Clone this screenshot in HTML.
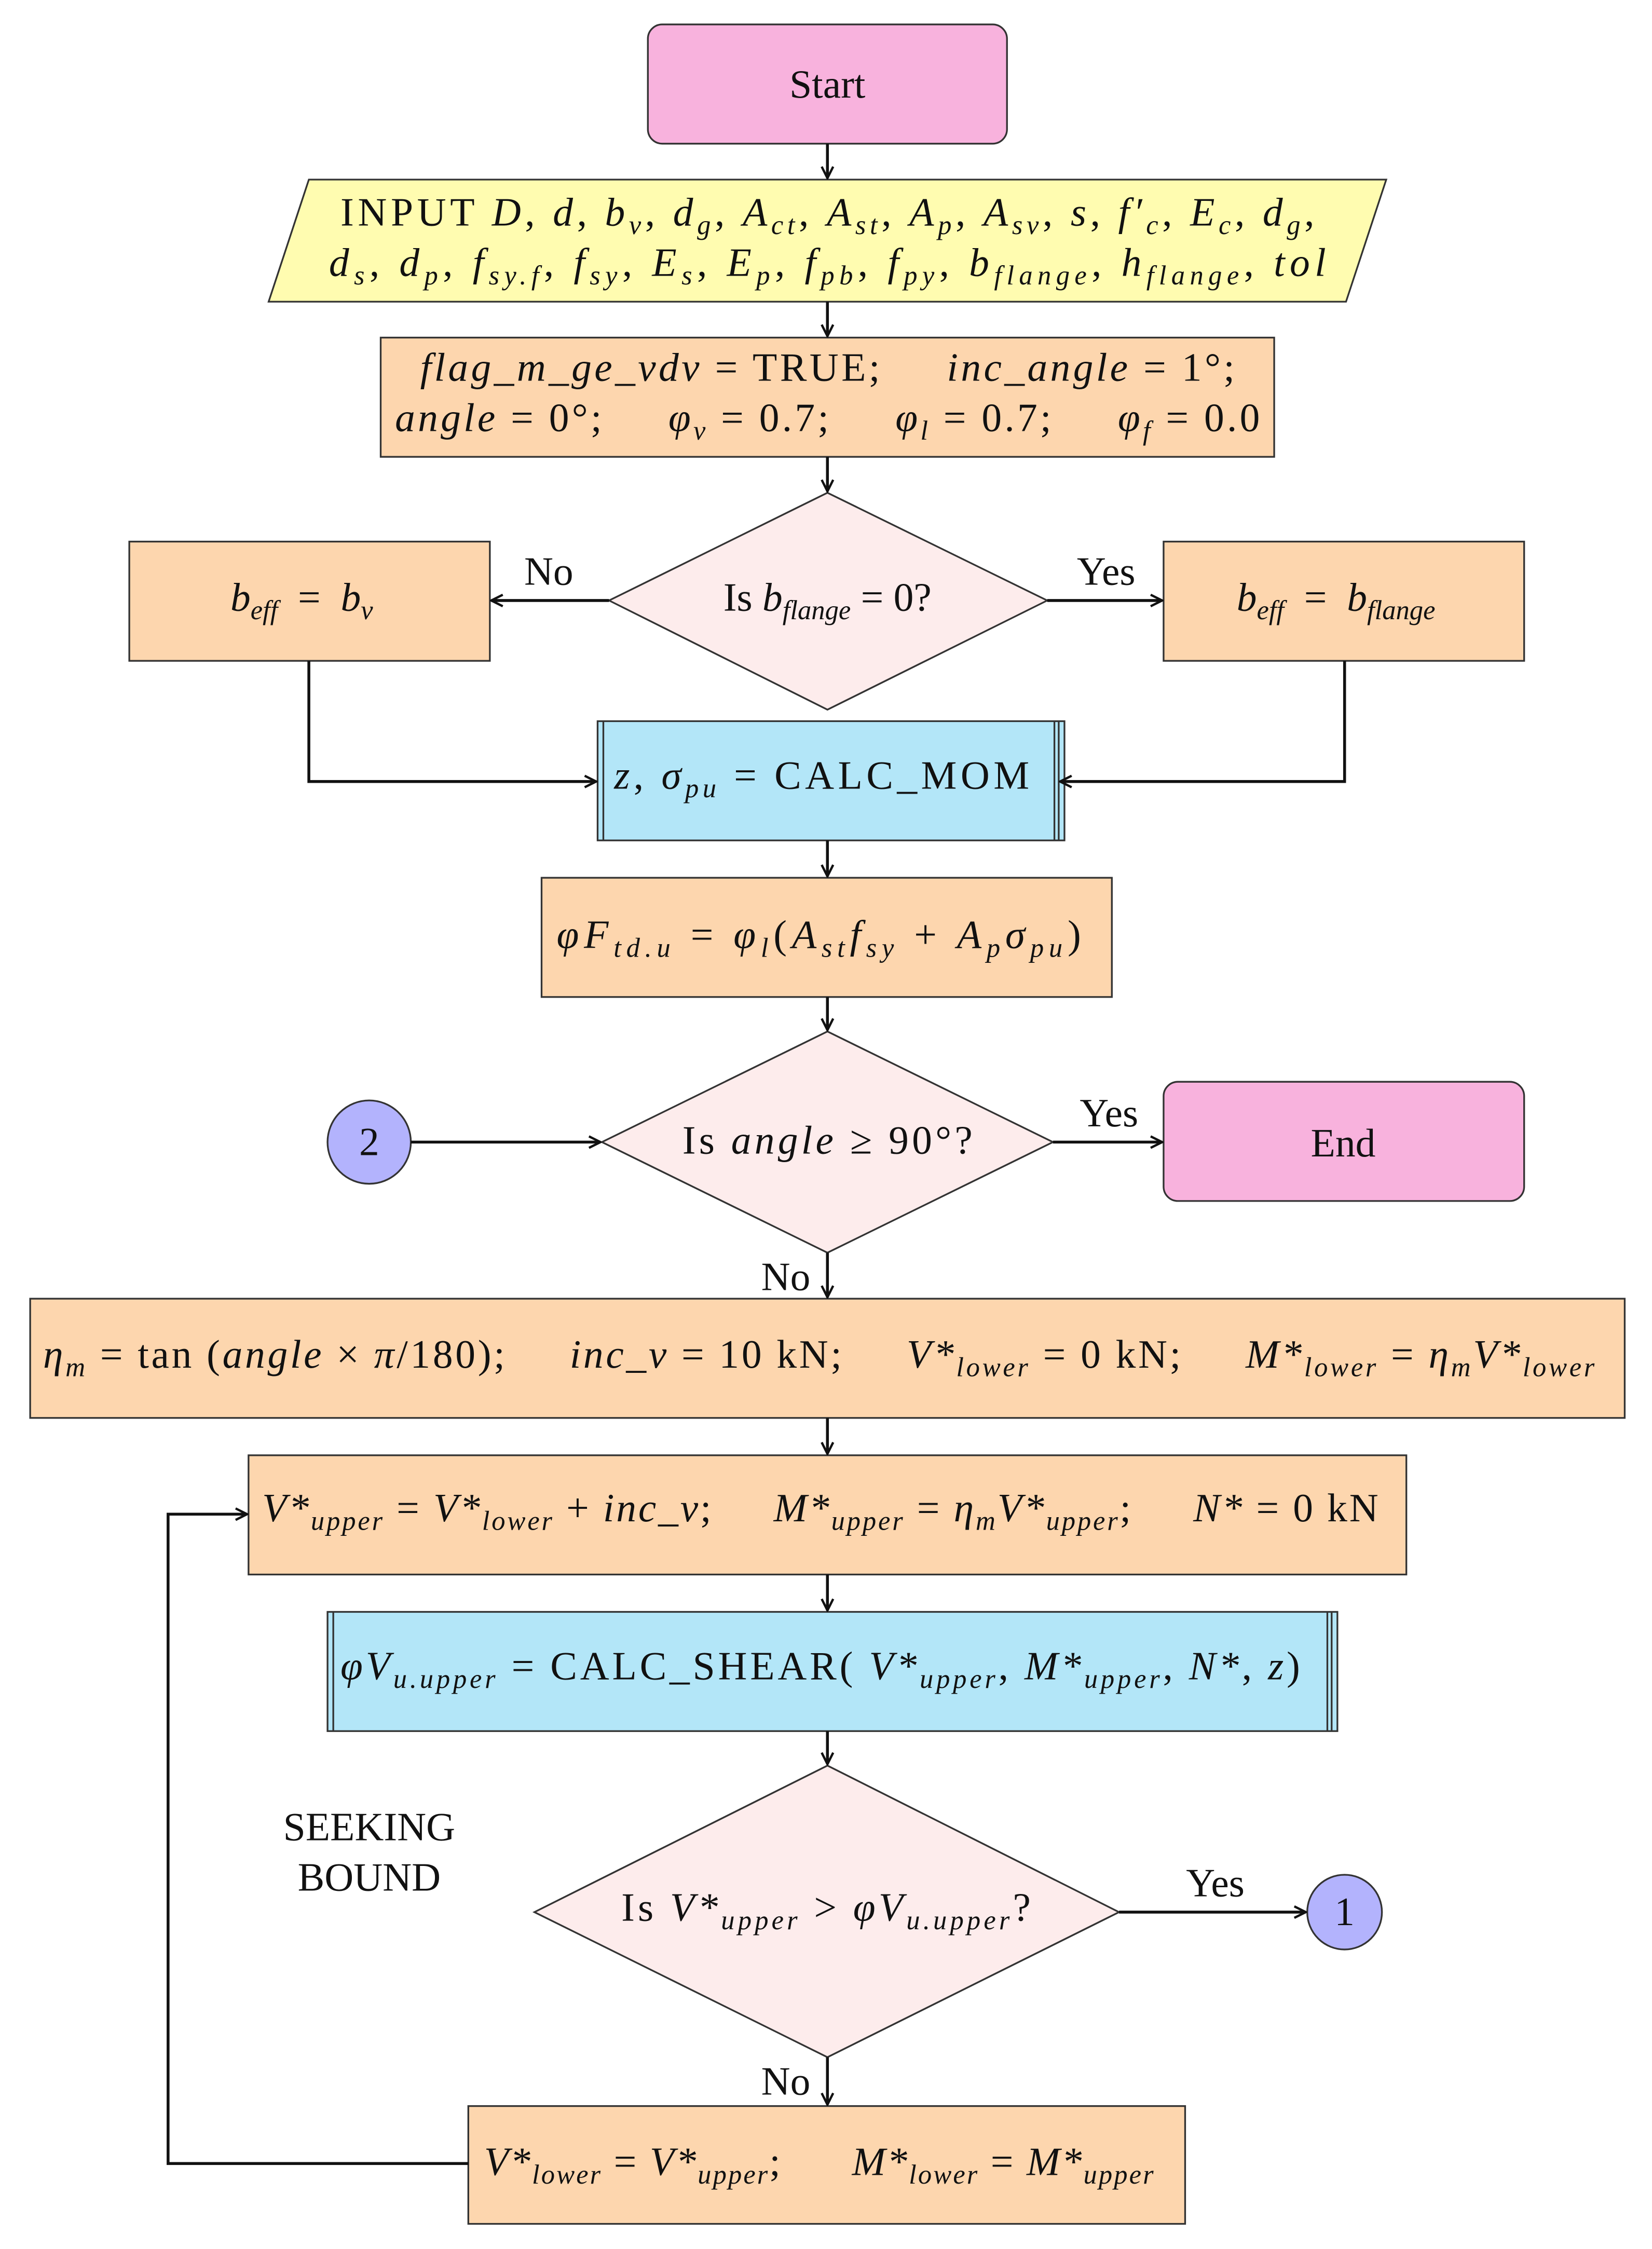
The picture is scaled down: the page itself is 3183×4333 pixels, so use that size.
<!DOCTYPE html>
<html><head><meta charset="utf-8"><style>
html,body{margin:0;padding:0;background:#fff;}
svg{display:block;}
text{font-family:"Liberation Serif",serif;font-size:28px;fill:#111;white-space:pre;}
.i{font-style:italic;}
.s{font-size:19px;font-style:italic;}
</style></head><body>
<svg width="3183" height="4333" viewBox="0 0 1150 1565.5" xmlns="http://www.w3.org/2000/svg">
<defs><marker id="a" markerWidth="10" markerHeight="10" refX="9" refY="5" orient="auto" markerUnits="userSpaceOnUse"><path d="M1,1 L9,5 L1,9" fill="none" stroke="#111" stroke-width="1.6"/></marker></defs>
<g stroke="#333" stroke-width="1.2">
<rect x="451" y="17" width="250" height="83" rx="10" fill="#f8b2dd"/>
<polygon points="215,125 965,125 937,210 187,210" fill="#fffcb0"/>
<rect x="265" y="235" width="622" height="83" fill="#fdd6ae"/>
<polygon points="576,343 729,418 576,494 424,418" fill="#fdecec"/>
<rect x="90" y="377" width="251" height="83" fill="#fdd6ae"/>
<rect x="810" y="377" width="251" height="83" fill="#fdd6ae"/>
<rect x="416" y="502" width="325" height="83" fill="#b3e6f8"/>
<rect x="377" y="611" width="397" height="83" fill="#fdd6ae"/>
<polygon points="576,718 733,795 576,872 419,795" fill="#fdecec"/>
<circle cx="257" cy="795" r="29" fill="#b3b3fd"/>
<rect x="810" y="753" width="251" height="83" rx="10" fill="#f8b2dd"/>
<rect x="21" y="904" width="1110" height="83" fill="#fdd6ae"/>
<rect x="173" y="1013" width="806" height="83" fill="#fdd6ae"/>
<rect x="228" y="1122" width="703" height="83" fill="#b3e6f8"/>
<polygon points="576,1229 779,1331 576,1432 372,1331" fill="#fdecec"/>
<circle cx="936" cy="1331" r="26" fill="#b3b3fd"/>
<rect x="326" y="1466" width="499" height="82" fill="#fdd6ae"/>
<path d="M420,502V585M737,502V585M734,502V585M232,1122V1205M927,1122V1205M924,1122V1205" fill="none"/>
</g>
<g stroke="#111" stroke-width="2" fill="none" marker-end="url(#a)">
<path d="M576,100V124"/><path d="M576,210V234"/><path d="M576,318V342"/>
<path d="M424,418H342"/><path d="M729,418H809"/>
<path d="M215,460V544H415"/><path d="M936,460V544H738"/>
<path d="M576,585V610"/><path d="M576,694V717"/>
<path d="M286,795H418"/><path d="M733,795H809"/>
<path d="M576,872V903"/><path d="M576,987V1012"/><path d="M576,1096V1121"/><path d="M576,1205V1228"/>
<path d="M779,1331H909"/><path d="M576,1432V1465"/>
<path d="M326,1506H117V1054H172"/>
</g>
<text x="576" y="68" text-anchor="middle">Start</text>
<text x="576" y="157" text-anchor="middle" textLength="678" lengthAdjust="spacing">INPUT <tspan class="i">D</tspan>, <tspan class="i">d</tspan>, <tspan class="i">b</tspan><tspan class="s" dy="6">v</tspan><tspan dy="-6">, </tspan><tspan class="i">d</tspan><tspan class="s" dy="6">g</tspan><tspan dy="-6">, </tspan><tspan class="i">A</tspan><tspan class="s" dy="6">ct</tspan><tspan dy="-6">, </tspan><tspan class="i">A</tspan><tspan class="s" dy="6">st</tspan><tspan dy="-6">, </tspan><tspan class="i">A</tspan><tspan class="s" dy="6">p</tspan><tspan dy="-6">, </tspan><tspan class="i">A</tspan><tspan class="s" dy="6">sv</tspan><tspan dy="-6">, </tspan><tspan class="i">s</tspan>, <tspan class="i">f′</tspan><tspan class="s" dy="6">c</tspan><tspan dy="-6">, </tspan><tspan class="i">E</tspan><tspan class="s" dy="6">c</tspan><tspan dy="-6">, </tspan><tspan class="i">d</tspan><tspan class="s" dy="6">g</tspan><tspan dy="-6">,</tspan></text>
<text x="576" y="192" text-anchor="middle" textLength="694" lengthAdjust="spacing"><tspan class="i">d</tspan><tspan class="s" dy="6">s</tspan><tspan dy="-6">, </tspan><tspan class="i">d</tspan><tspan class="s" dy="6">p</tspan><tspan dy="-6">, </tspan><tspan class="i">f</tspan><tspan class="s" dy="6">sy.f</tspan><tspan dy="-6">, </tspan><tspan class="i">f</tspan><tspan class="s" dy="6">sy</tspan><tspan dy="-6">, </tspan><tspan class="i">E</tspan><tspan class="s" dy="6">s</tspan><tspan dy="-6">, </tspan><tspan class="i">E</tspan><tspan class="s" dy="6">p</tspan><tspan dy="-6">, </tspan><tspan class="i">f</tspan><tspan class="s" dy="6">pb</tspan><tspan dy="-6">, </tspan><tspan class="i">f</tspan><tspan class="s" dy="6">py</tspan><tspan dy="-6">, </tspan><tspan class="i">b</tspan><tspan class="s" dy="6">flange</tspan><tspan dy="-6">, </tspan><tspan class="i">h</tspan><tspan class="s" dy="6">flange</tspan><tspan dy="-6">, </tspan><tspan class="i">tol</tspan></text>
<text x="576" y="265" text-anchor="middle" textLength="567" lengthAdjust="spacing"><tspan class="i">flag_m_ge_vdv</tspan> = TRUE;     <tspan class="i">inc_angle</tspan> = 1°;</text>
<text x="576" y="300" text-anchor="middle" textLength="602" lengthAdjust="spacing"><tspan class="i">angle</tspan> = 0°;     <tspan class="i">φ</tspan><tspan class="s" dy="6">v</tspan><tspan dy="-6"> = 0.7;     </tspan><tspan class="i">φ</tspan><tspan class="s" dy="6">l</tspan><tspan dy="-6"> = 0.7;     </tspan><tspan class="i">φ</tspan><tspan class="s" dy="6">f</tspan><tspan dy="-6"> = 0.0</tspan></text>
<text x="576" y="425" text-anchor="middle">Is <tspan class="i">b</tspan><tspan class="s" dy="6">flange</tspan><tspan dy="-6"> = 0?</tspan></text>
<text x="382" y="407" text-anchor="middle">No</text>
<text x="770" y="407" text-anchor="middle">Yes</text>
<text x="210" y="425" text-anchor="middle"><tspan class="i">b</tspan><tspan class="s" dy="6">eff</tspan><tspan dy="-6">  =  </tspan><tspan class="i">b</tspan><tspan class="s" dy="6">v</tspan></text>
<text x="930" y="425" text-anchor="middle"><tspan class="i">b</tspan><tspan class="s" dy="6">eff</tspan><tspan dy="-6">  =  </tspan><tspan class="i">b</tspan><tspan class="s" dy="6">flange</tspan></text>
<text x="572" y="549" text-anchor="middle" textLength="289" lengthAdjust="spacing"><tspan class="i">z</tspan>, <tspan class="i">σ</tspan><tspan class="s" dy="6">pu</tspan><tspan dy="-6"> = CALC_MOM</tspan></text>
<text x="570" y="660" text-anchor="middle" textLength="365" lengthAdjust="spacing"><tspan class="i">φF</tspan><tspan class="s" dy="6">td.u</tspan><tspan dy="-6"> = </tspan><tspan class="i">φ</tspan><tspan class="s" dy="6">l</tspan><tspan dy="-6">(</tspan><tspan class="i">A</tspan><tspan class="s" dy="6">st</tspan><tspan class="i" dy="-6">f</tspan><tspan class="s" dy="6">sy</tspan><tspan dy="-6"> + </tspan><tspan class="i">A</tspan><tspan class="s" dy="6">p</tspan><tspan class="i" dy="-6">σ</tspan><tspan class="s" dy="6">pu</tspan><tspan dy="-6">)</tspan></text>
<text x="576" y="803" text-anchor="middle" textLength="202" lengthAdjust="spacing">Is <tspan class="i">angle</tspan> ≥ 90°?</text>
<text x="257" y="804" text-anchor="middle">2</text>
<text x="772" y="784" text-anchor="middle">Yes</text>
<text x="935" y="805" text-anchor="middle">End</text>
<text x="547" y="898" text-anchor="middle">No</text>
<text x="570" y="952" text-anchor="middle" textLength="1080" lengthAdjust="spacing"><tspan class="i">η</tspan><tspan class="s" dy="6">m</tspan><tspan dy="-6"> = tan (</tspan><tspan class="i">angle</tspan> × <tspan class="i">π</tspan>/180);     <tspan class="i">inc_v</tspan> = 10 kN;     <tspan class="i">V*</tspan><tspan class="s" dy="6">lower</tspan><tspan dy="-6"> = 0 kN;     </tspan><tspan class="i">M*</tspan><tspan class="s" dy="6">lower</tspan><tspan dy="-6"> = </tspan><tspan class="i">η</tspan><tspan class="s" dy="6">m</tspan><tspan class="i" dy="-6">V*</tspan><tspan class="s" dy="6">lower</tspan></text>
<text x="571" y="1059" text-anchor="middle" textLength="777" lengthAdjust="spacing"><tspan class="i">V*</tspan><tspan class="s" dy="6">upper</tspan><tspan dy="-6"> = </tspan><tspan class="i">V*</tspan><tspan class="s" dy="6">lower</tspan><tspan dy="-6"> + </tspan><tspan class="i">inc_v</tspan>;     <tspan class="i">M*</tspan><tspan class="s" dy="6">upper</tspan><tspan dy="-6"> = </tspan><tspan class="i">η</tspan><tspan class="s" dy="6">m</tspan><tspan class="i" dy="-6">V*</tspan><tspan class="s" dy="6">upper</tspan><tspan dy="-6">;     </tspan><tspan class="i">N*</tspan> = 0 kN</text>
<text x="571" y="1169" text-anchor="middle" textLength="668" lengthAdjust="spacing"><tspan class="i">φV</tspan><tspan class="s" dy="6">u.upper</tspan><tspan dy="-6"> = CALC_SHEAR( </tspan><tspan class="i">V*</tspan><tspan class="s" dy="6">upper</tspan><tspan dy="-6">, </tspan><tspan class="i">M*</tspan><tspan class="s" dy="6">upper</tspan><tspan dy="-6">, </tspan><tspan class="i">N*</tspan>, <tspan class="i">z</tspan>)</text>
<text x="257" y="1281" text-anchor="middle">SEEKING</text>
<text x="257" y="1316" text-anchor="middle">BOUND</text>
<text x="575" y="1337" text-anchor="middle" textLength="285" lengthAdjust="spacing">Is <tspan class="i">V*</tspan><tspan class="s" dy="6">upper</tspan><tspan dy="-6"> &gt; </tspan><tspan class="i">φV</tspan><tspan class="s" dy="6">u.upper</tspan><tspan dy="-6">?</tspan></text>
<text x="846" y="1320" text-anchor="middle">Yes</text>
<text x="936" y="1340" text-anchor="middle">1</text>
<text x="547" y="1458" text-anchor="middle">No</text>
<text x="570" y="1514" text-anchor="middle" textLength="466" lengthAdjust="spacing"><tspan class="i">V*</tspan><tspan class="s" dy="6">lower</tspan><tspan dy="-6"> = </tspan><tspan class="i">V*</tspan><tspan class="s" dy="6">upper</tspan><tspan dy="-6">;      </tspan><tspan class="i">M*</tspan><tspan class="s" dy="6">lower</tspan><tspan dy="-6"> = </tspan><tspan class="i">M*</tspan><tspan class="s" dy="6">upper</tspan></text>
</svg>
</body></html>
